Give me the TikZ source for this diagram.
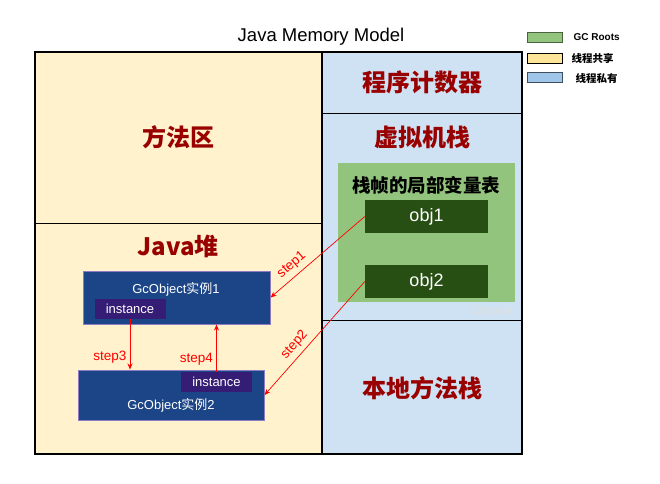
\documentclass[tikz,border=0pt]{standalone}
\usepackage{fontspec}
\setmainfont{Liberation Sans}
\newfontfamily\cjk{Noto Sans CJK SC}
\usetikzlibrary{arrows.meta,positioning}
\definecolor{shared}{HTML}{FFF2CC}
\definecolor{private}{HTML}{CFE2F3}
\definecolor{roots}{HTML}{93C47D}
\definecolor{rootdark}{HTML}{274E13}
\definecolor{heapblue}{HTML}{1C4587}
\definecolor{heapedge}{HTML}{8E7CC3}
\definecolor{instpurple}{HTML}{351C75}
\definecolor{darkred}{HTML}{990000}
\definecolor{keyshared}{HTML}{FFE599}
\definecolor{keyprivate}{HTML}{9FC5E8}
\newcommand\fsz[1]{\fontsize{#1}{#1}\selectfont}

\begin{document}
\begin{tikzpicture}[x=1pt,y=-1pt,
  region/.style={text=darkred,font=\cjk\bfseries\fsz{24}},
  objbox/.style={fill=rootdark,text=white,minimum width=123pt,minimum height=33pt,font=\fsz{18}},
  heapbox/.style={fill=heapblue,draw=heapedge,line width=1pt,text=white,font=\fsz{13}},
  instbox/.style={fill=instpurple,text=white,font=\fsz{13},inner sep=0pt,minimum width=71pt,minimum height=20pt},
  stepline/.style={red,-{Stealth[length=6pt,width=5pt]},line width=0.7pt},
  steplabel/.style={text=red,font=\fsz{13.5}},
  legend/.style={line width=1pt,minimum width=35pt,minimum height=10pt,inner sep=0pt}]
\useasboundingbox (0,0) rectangle (660,483);
% memory areas
\fill[shared] (35,52) rectangle (322,454);
\fill[private] (322,52) rectangle (522,454);
\fill[roots] (338,163) rectangle (515,302);
\draw[line width=1pt] (35,223) -- (322,223);
\draw[line width=1pt] (322,113) -- (522,113);
\draw[line width=1pt] (322,320) -- (522,320);
\draw[line width=1.5pt] (322,52) -- (322,454);
\draw[line width=1.2pt] (35,52) rectangle (522,454);
\node[font=\fsz{18.5}] (title) at (321,37) {Java Memory Model};
\node[region] (method) at (178,137) {方法区};
\node[region] (heap) at (178,246) {Java{\cjk 堆}};
\node[region] (pc) at (422,82) {程序计数器};
\node[region] (vmstack) at (422,137) {虚拟机栈};
\node[region] (native) at (422,388) {本地方法栈};
\node[font=\cjk\bfseries\fsz{18.5}] (frame) at (426,185) {栈帧的局部变量表};
\node[text=white!75!gray,font=\fsz{12}] (mark) at (491,311) {Gityuan};
% objects
\node[objbox] (obj1) at (426.5,216.5) {obj1};
\node[objbox] (obj2) at (426.5,281.5) {obj2};
\node[heapbox,minimum width=187pt,minimum height=53pt] (gcA) at (176.5,297.5) {};
\node[heapbox,minimum width=186pt,minimum height=50pt] (gcB) at (171,395) {};
\node[text=white,font=\fsz{13}] at (176,289) {GcObject{\cjk 实例}1};
\node[text=white,font=\fsz{13}] at (171,405) {GcObject{\cjk 实例}2};
\node[instbox] (instA) at (130,309) {instance};
\node[instbox] (instB) at (216.5,382) {instance};
% references
\draw[stepline] (obj1.west) -- node[steplabel,sloped,above=1pt,pos=0.7]{step1} (gcA.east);
\draw[stepline] (obj2.west) -- node[steplabel,sloped,above=1pt,pos=0.62]{step2} (gcB.east);
\draw[stepline] (instA.south) -- node[steplabel,left,pos=0.75]{step3} (instA.south |- gcB.north);
\draw[stepline] (instB.north) -- node[steplabel,left,pos=0.27]{step4} (instB.north |- gcA.south);
% legend
\node[legend,fill=roots,draw=roots!50!black] (lgA) at (545,37) {};
\node[legend,fill=keyshared,draw=black] (lgB) at (545,58) {};
\node[legend,fill=keyprivate,draw=keyprivate!40!black] (lgC) at (545,77.5) {};
\node[anchor=west,font=\bfseries\fsz{10}] at (570,37) {GC Roots};
\node[anchor=west,font=\cjk\bfseries\fsz{10.5}] at (568,58) {线程共享};
\node[anchor=west,font=\cjk\bfseries\fsz{10.5}] at (572,78) {线程私有};
\end{tikzpicture}
\end{document}
